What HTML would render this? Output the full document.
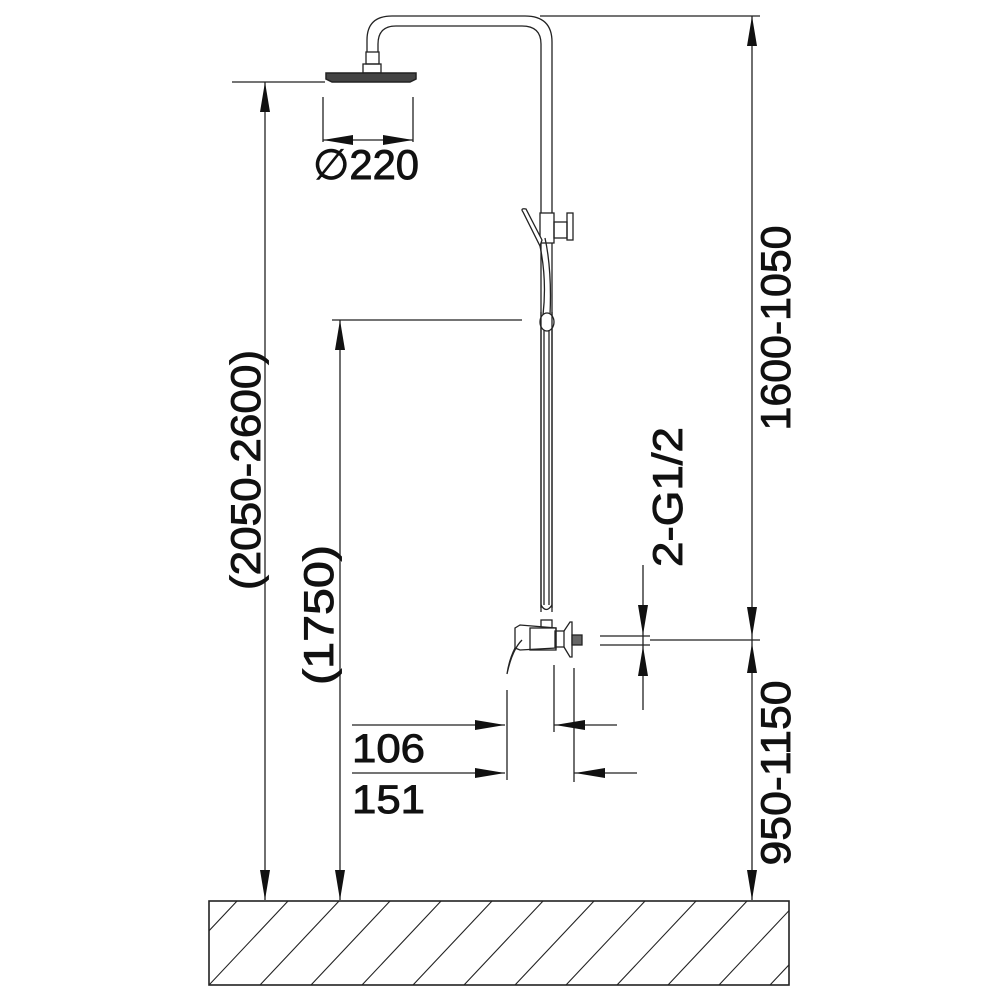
<!DOCTYPE html>
<html><head><style>html,body{margin:0;padding:0;background:#fff}svg{display:block}</style></head><body>
<svg width="1000" height="1000" viewBox="0 0 1000 1000" xmlns="http://www.w3.org/2000/svg" font-family="Liberation Sans, sans-serif">
<defs><clipPath id="fc"><rect x="209" y="901" width="580" height="84"/></clipPath></defs>
<g fill="none" stroke="#222" stroke-width="1.3">
<path d="M367 52 L367 40 Q367 16 392 16 L525 16 Q552 16 552 42 L552 612"/>
<path d="M378 52 L378 44 Q378 26 396 26 L522 26 Q541 26 541 44 L541 612"/>
<rect x="366" y="52" width="13" height="12"/>
<rect x="363" y="64" width="18" height="9"/>
<path d="M326 73 L416 73 L416 79 L410 82 L332 82 L326 79 Z" stroke-width="1.5" fill="#444"/>
<rect x="540" y="213" width="14" height="30" fill="#fff"/>
<rect x="554" y="222" width="13" height="16"/>
<rect x="567" y="213" width="6" height="27"/>
<path d="M523 212 Q520 208 526 209 L542 240 L540 246 Z" fill="#fff"/>
<path d="M540 246 Q547 280 543 315 M545 238 Q552 270 550 315"/>
<ellipse cx="547" cy="322" rx="7" ry="9" fill="#fff"/>
<path d="M541 312 L541 608 M552 312 L552 608 M544 330 L544 605 M549 330 L549 605"/>
<path d="M541 605 Q546 614 552 605"/>
<rect x="541" y="620" width="11" height="9"/>
<path d="M515 628 L520 625 L556 628 L556 648 L520 650 L515 648 Z" fill="#fff"/>
<rect x="530" y="628" width="26" height="22"/>
<rect x="555" y="631" width="9" height="16"/>
<path d="M564 631 L570 622 L572 622 L572 657 L570 657 L564 647"/>
<rect x="572" y="635" width="10" height="10" fill="#666"/>
<path d="M522 640 Q512 650 507 674 M515 648 Q509 660 507 674"/>
<path d="M540 16 L760 16"/>
<path d="M232 82 L325 82 M265 82 L265 900"/>
<path d="M323 97 L323 142 M413 97 L413 142 M323 140 L413 140"/>
<path d="M332 320 L522 320 M340 320 L340 900"/>
<path d="M752 16 L752 900"/>
<path d="M600 636 L650 636 M600 645 L650 645 M650 640 L760 640"/>
<path d="M643 565 L643 710"/>
<path d="M352 725 L505 725 M507 690 L507 780 M352 773 L505 773"/>
<path d="M554 665 L554 732 M574 668 L574 782 M554 725 L617 725 M574 773 L637 773"/>
<rect x="209" y="901" width="580" height="84" stroke-width="1.6"/>
<g clip-path="url(#fc)" stroke-width="1.1">
<path d="M158 985 L238 900 M209 985 L289 900 M260 985 L340 900 M311 985 L391 900 M362 985 L442 900 M413 985 L493 900 M464 985 L544 900 M515 985 L595 900 M566 985 L646 900 M617 985 L697 900 M668 985 L748 900 M719 985 L799 900 M770 985 L850 900"/>
</g>
</g>
<g fill="#111">
<path d="M265 82 L260 112 L270 112 Z M265 900 L260 870 L270 870 Z"/>
<path d="M340 320 L335 350 L345 350 Z M340 900 L335 870 L345 870 Z"/>
<path d="M752 16 L747 46 L757 46 Z M752 637 L747 607 L757 607 Z M752 643 L747 673 L757 673 Z M752 900 L747 870 L757 870 Z"/>
<path d="M643 635 L638 605 L648 605 Z M643 646 L638 676 L648 676 Z"/>
<path d="M323 140 L353 135 L353 145 Z M413 140 L383 135 L383 145 Z"/>
<path d="M505 725 L475 720 L475 730 Z M505 773 L475 768 L475 778 Z"/>
<path d="M555 725 L585 720 L585 730 Z M575 773 L605 768 L605 778 Z"/>
</g>
<g fill="#111" stroke="#111" stroke-width="0.9" font-size="42">
<text x="313" y="179" textLength="106" lengthAdjust="spacingAndGlyphs">∅220</text>
<text x="352" y="762" font-size="40" textLength="73" lengthAdjust="spacingAndGlyphs">106</text>
<text x="352" y="813" font-size="40" textLength="73" lengthAdjust="spacingAndGlyphs">151</text>
<text transform="translate(260,470) rotate(-90)" text-anchor="middle" textLength="240" lengthAdjust="spacingAndGlyphs">(2050-2600)</text>
<text transform="translate(333,615) rotate(-90)" text-anchor="middle" textLength="140" lengthAdjust="spacingAndGlyphs">(1750)</text>
<text transform="translate(790,328) rotate(-90)" text-anchor="middle" textLength="205" lengthAdjust="spacingAndGlyphs">1600-1050</text>
<text transform="translate(790,773) rotate(-90)" text-anchor="middle" textLength="185" lengthAdjust="spacingAndGlyphs">950-1150</text>
<text transform="translate(682,497) rotate(-90)" text-anchor="middle" textLength="140" lengthAdjust="spacingAndGlyphs">2-G1/2</text>
</g>
</svg>
</body></html>
